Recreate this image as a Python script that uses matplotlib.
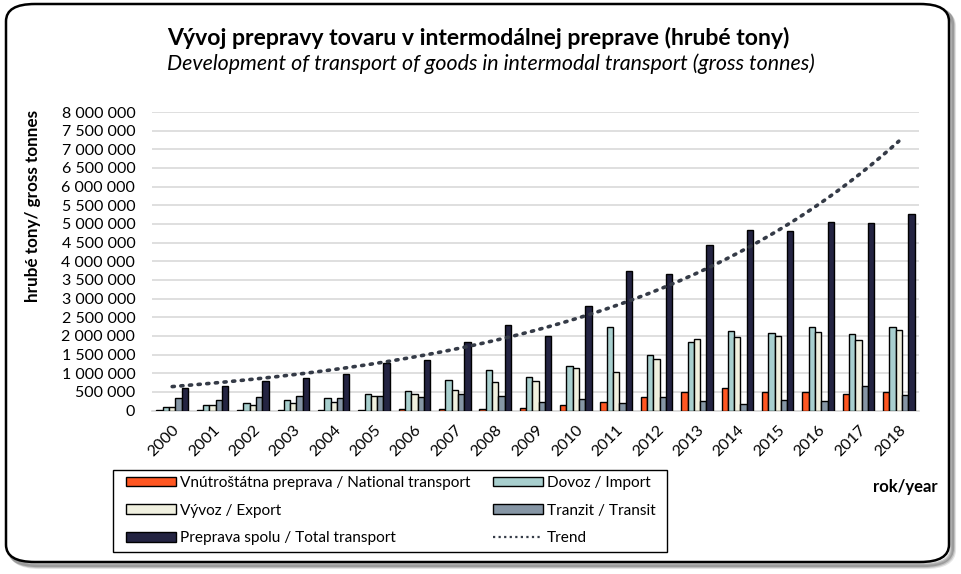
import numpy as np
import matplotlib
matplotlib.use("Agg")
import matplotlib.pyplot as plt
from matplotlib.patches import FancyBboxPatch, Patch, Rectangle
from matplotlib.lines import Line2D
from matplotlib.ticker import FuncFormatter, MultipleLocator

plt.rcParams['font.family'] = ['Lato', 'DejaVu Sans']

years = [str(y) for y in range(2000, 2019)]
national = [0.02, 0.02, 0.02, 0.02, 0.02, 0.02, 0.05, 0.05, 0.05, 0.08,
            0.16, 0.24, 0.37, 0.49, 0.60, 0.49, 0.49, 0.43, 0.49]
imports = [0.10, 0.15, 0.21, 0.29, 0.34, 0.45, 0.51, 0.81, 1.08, 0.91,
           1.18, 2.25, 1.50, 1.83, 2.12, 2.07, 2.23, 2.04, 2.23]
exports = [0.10, 0.15, 0.15, 0.21, 0.24, 0.40, 0.43, 0.55, 0.76, 0.79,
           1.13, 1.03, 1.39, 1.91, 1.97, 1.99, 2.10, 1.88, 2.15]
transit = [0.34, 0.29, 0.37, 0.40, 0.34, 0.40, 0.35, 0.43, 0.40, 0.24,
           0.32, 0.21, 0.35, 0.25, 0.17, 0.27, 0.25, 0.67, 0.41]
total = [0.59, 0.66, 0.78, 0.88, 0.99, 1.28, 1.36, 1.84, 2.30, 2.00,
         2.81, 3.74, 3.66, 4.44, 4.84, 4.81, 5.05, 5.02, 5.27]

series = [
    ("Vnútroštátna preprava / National transport", national, "#FF5722"),
    ("Dovoz / Import", imports, "#A8CFCE"),
    ("Vývoz / Export", exports, "#F0F0DF"),
    ("Tranzit / Transit", transit, "#8696A5"),
    ("Preprava spolu / Total transport", total, "#242442"),
]

fig = plt.figure(figsize=(9.62, 5.74), dpi=100)

# rounded border with shadow
W, H = 962, 574
def fx(px): return px / W
def fy(py): return 1 - py / H
for off, a in [(5, 0.10), (4, 0.15), (3, 0.2)]:
    sh = FancyBboxPatch((fx(6 + off), fy(562 + off)), fx(943), 558 / H,
                        boxstyle="round,pad=0,rounding_size=0.03",
                        transform=fig.transFigure, facecolor="none",
                        edgecolor=(0, 0, 0, a), linewidth=3, zorder=0)
    fig.patches.append(sh)
border = FancyBboxPatch((fx(6), fy(562)), fx(943), 558 / H,
                        boxstyle="round,pad=0,rounding_size=0.03",
                        transform=fig.transFigure, facecolor="white",
                        edgecolor="black", linewidth=1.8, zorder=1)
fig.patches.append(border)

ax = fig.add_axes([fx(152), fy(410.5), fx(919 - 152), (410.5 - 112) / H])
ax.set_zorder(2)
ax.patch.set_alpha(0)

x = np.arange(len(years))
bw = 0.156
handles = []
for i, (lab, vals, col) in enumerate(series):
    v = np.array(vals) * 1e6
    ax.bar(x + (i - 2) * bw, v, width=bw, color=col, edgecolor="black",
           linewidth=1.0, zorder=3)
    handles.append(Patch(facecolor=col, edgecolor="black", linewidth=1.0, label=lab))

# exponential trend fitted to total transport
coef = np.polyfit(x, np.log(np.array(total) * 1e6), 1)
xt = np.linspace(0, len(years) - 1, 200)
trend = np.exp(np.polyval(coef, xt))
ax.plot(xt, trend, linestyle=(0, (0.6, 1.8)), color="#353b47", linewidth=2.6,
        dash_capstyle="round", zorder=5)
trend_h = Line2D([0], [0], linestyle=(0, (1, 1.5)), color="#353b47", linewidth=1.6,
                 label="Trend")

ax.set_xlim(-0.5, len(years) - 0.5)
ax.set_ylim(0, 8e6)
ax.yaxis.set_major_locator(MultipleLocator(5e5))
ax.yaxis.set_major_formatter(FuncFormatter(lambda v, p: f"{v:,.0f}".replace(",", " ")))
ax.grid(axis="y", color="#d9d9d9", linewidth=1.2, zorder=0)
ax.set_axisbelow(True)
for s in ["top", "right", "left"]:
    ax.spines[s].set_visible(False)
ax.spines["bottom"].set_color("#d9d9d9")
ax.spines["bottom"].set_linewidth(1.2)
ax.tick_params(axis="both", length=0, labelsize=11.5, colors="black")
ax.tick_params(axis="y", pad=12)
ax.set_xticks(x)
ax.set_xticklabels(years, rotation=45, ha="right", rotation_mode="anchor")
ax.tick_params(axis="x", pad=9)

fig.text(0.497, fy(38), "Vývoj prepravy tovaru v intermodálnej preprave (hrubé tony)",
         ha="center", va="center", fontsize=16.6, fontweight="bold")
fig.text(0.51, fy(64), "Development of transport of goods in intermodal transport (gross tonnes)",
         ha="center", va="center", fontsize=15.4, fontstyle="italic")
fig.text(fx(33), fy(206), "hrubé tony/ gross tonnes", rotation=90, ha="center", va="center",
         fontsize=12.3, fontweight="bold")
fig.text(fx(905), fy(487), "rok/year", ha="center", va="center", fontsize=12,
         fontweight="bold")

# legend box
fig.patches.append(Rectangle((fx(113), fy(552)), fx(667 - 113), (552 - 470) / H,
                             transform=fig.transFigure, facecolor="white",
                             edgecolor="black", linewidth=1.0, zorder=5))

order = [handles[0], handles[2], handles[4], handles[1], handles[3], trend_h]
leg = fig.legend(handles=order, ncol=2, loc="upper left",
                 bbox_to_anchor=(fx(126), fy(476)), frameon=False, fontsize=11.1,
                 handlelength=3.25, handleheight=0.6, handletextpad=0.25,
                 columnspacing=1.45, labelspacing=0.88, borderpad=0.0,
                 borderaxespad=0)
leg.set_zorder(6)

fig.savefig("out.png", dpi=100)
